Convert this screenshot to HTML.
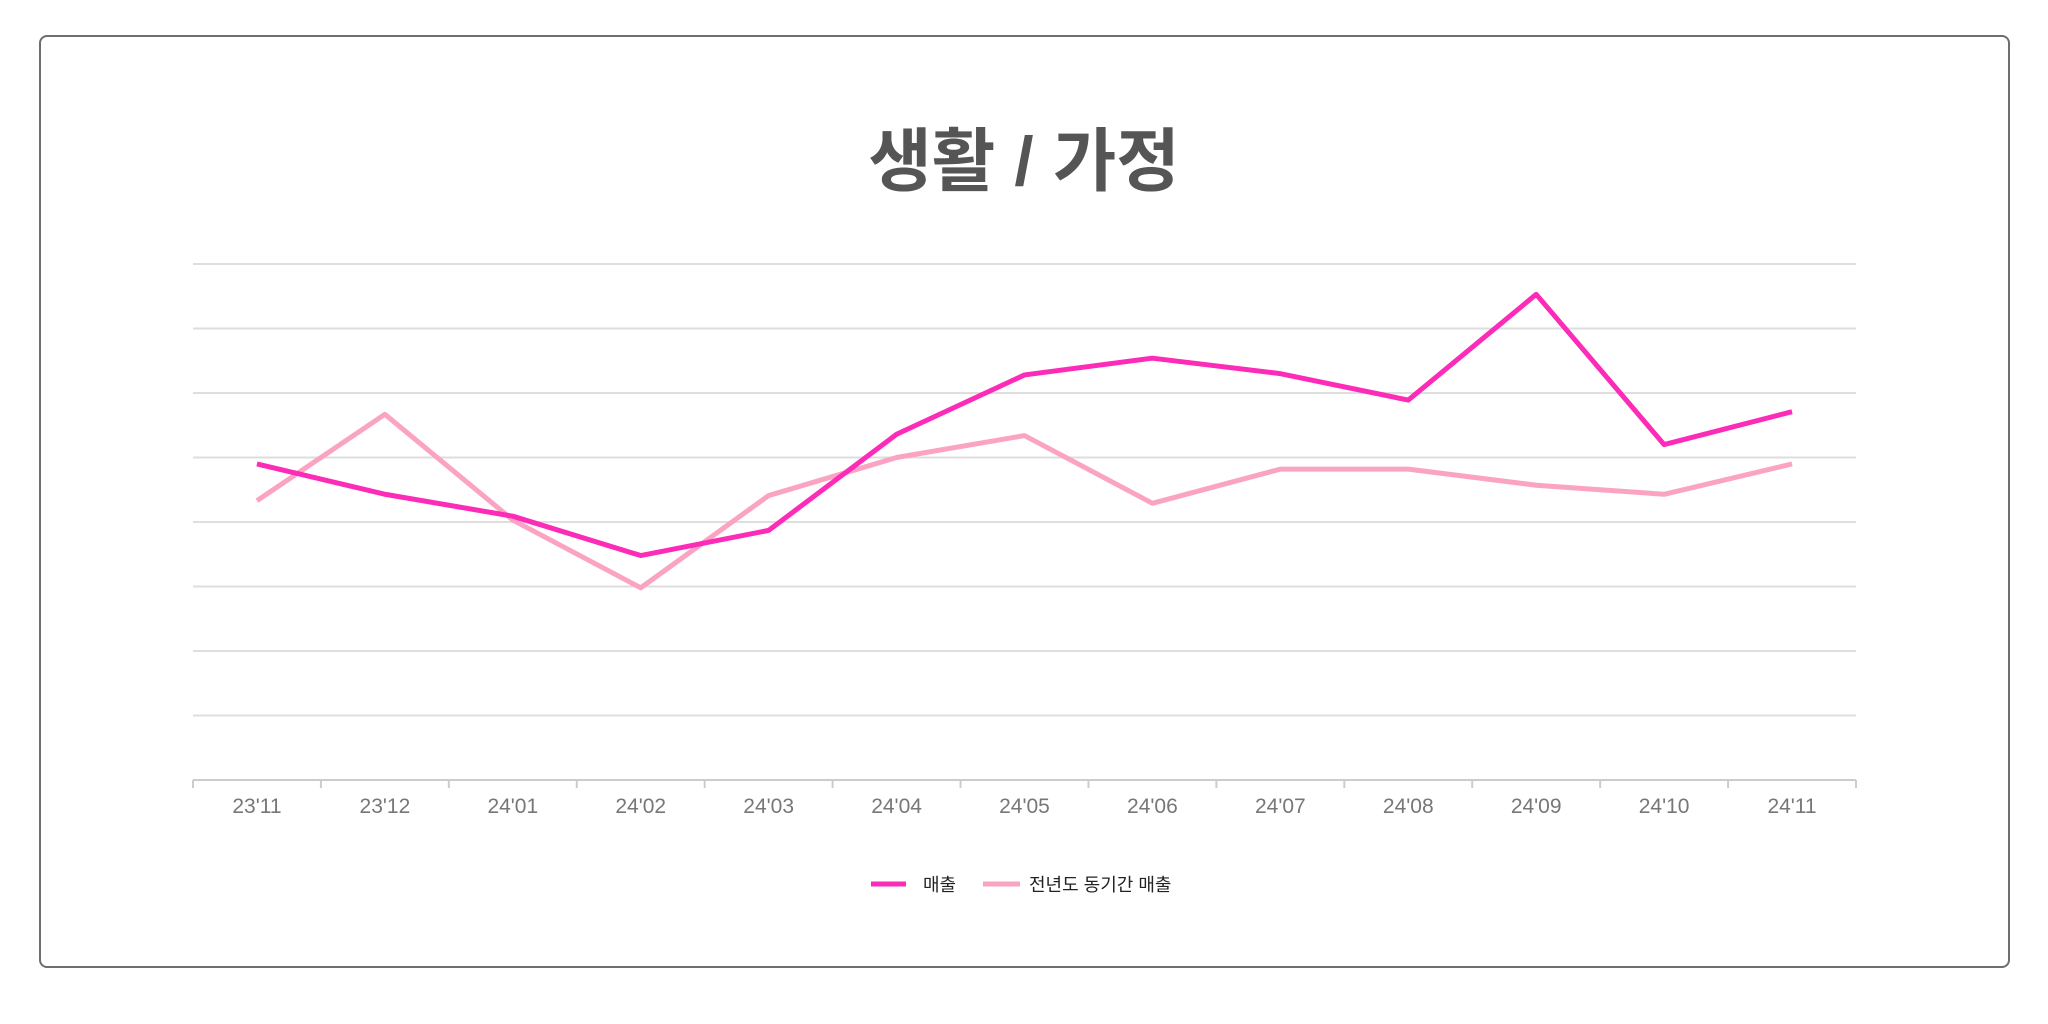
<!DOCTYPE html>
<html><head><meta charset="utf-8">
<style>
html,body{margin:0;padding:0;background:#fff;width:2048px;height:1024px;overflow:hidden;}
.card{position:absolute;left:39px;top:35px;width:1971px;height:933px;border:2px solid #6e6e6e;border-radius:8px;box-sizing:border-box;}
.title{position:absolute;left:0;width:2048px;top:114px;text-align:center;font-family:"Liberation Sans","Noto Sans CJK KR",sans-serif;font-weight:bold;font-size:69px;color:#555;line-height:96px;}
svg{position:absolute;left:0;top:0;}
</style></head><body>
<div class="card"></div>
<div class="title">생활 / 가정</div>
<svg id="chart" width="2048" height="1024"></svg>
<script>
const categories=["23'11","23'12","24'01","24'02","24'03","24'04","24'05","24'06","24'07","24'08","24'09","24'10","24'11"];
const sales=[4.9,4.43,4.09,3.48,3.87,5.36,6.28,6.54,6.30,5.89,7.53,5.20,5.71];
const prevYear=[4.33,5.67,4.03,2.98,4.41,5.0,5.34,4.29,4.82,4.82,4.57,4.43,4.9];
const yTicks=[0,1,2,3,4,5,6,7,8];
const seriesNames=["매출","전년도 동기간 매출"];
const NS="http://www.w3.org/2000/svg";
const svg=document.getElementById('chart');
const x0=193,x1=1856,yBase=780,yTop=264,yMax=8;
const band=(x1-x0)/categories.length;
const xs=i=>x0+band*(i+0.5);
const ys=v=>yBase-(v/yMax)*(yBase-yTop);
function mk(t,a){const e=document.createElementNS(NS,t);for(const k in a)e.setAttribute(k,a[k]);svg.appendChild(e);return e;}
yTicks.forEach(t=>{
 const l=mk('line',{x1:x0,x2:x1,y1:ys(t),y2:ys(t),stroke:t===0?'#ccc':'#dedede','stroke-width':2});
 
 
});
for(let i=0;i<=categories.length;i++){
 const tx=x0+band*i;
 const l=mk('line',{x1:tx,x2:tx,y1:yBase,y2:yBase+8,stroke:'#ccc','stroke-width':2});
 
 
}
categories.forEach((c,i)=>{
 const t=mk('text',{x:xs(i),y:813,'text-anchor':'middle','font-family':'Liberation Sans, sans-serif','font-size':21,fill:'#777'});
 t.textContent=c;
 
 
});
function line(vals,color,name){
 const p=mk('polyline',{points:vals.map((v,i)=>xs(i)+','+ys(v)).join(' '),fill:'none',stroke:color,'stroke-width':5,'stroke-linejoin':'round'});
 
 
}
line(prevYear,'#fba3c3','prev-year-sales-line');
line(sales,'#fc2bb8','sales-line');
const legend=[[871,906,923,'#fc2bb8',seriesNames[0]],[983,1020,1029,'#fba3c3',seriesNames[1]]];
legend.forEach((g,k)=>{
 const l=mk('line',{x1:g[0],x2:g[1],y1:884,y2:884,stroke:g[3],'stroke-width':5});
 
 
 const t=mk('text',{x:g[2],y:891,'font-family':'Liberation Sans, Noto Sans CJK KR, sans-serif','font-size':18,fill:'#222'});
 t.textContent=g[4];
 
 
});
</script>
</body></html>
